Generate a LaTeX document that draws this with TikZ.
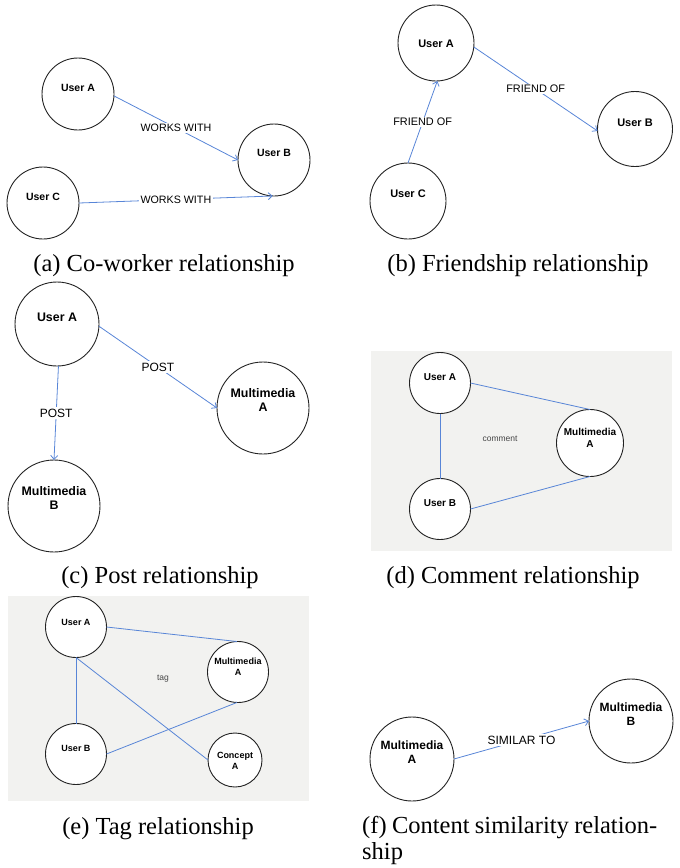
\documentclass[tikz,border=0pt]{standalone}
\usepackage{fontspec}
\setmainfont{Liberation Serif}
\setsansfont{Liberation Sans}
\usetikzlibrary{arrows.meta}
\definecolor{edgeblue}{RGB}{88,133,215}
\definecolor{panelgray}{RGB}{242,242,240}
\definecolor{ringgray}{RGB}{35,35,35}
\definecolor{notegray}{RGB}{70,70,70}
\newcommand\setsz[2]{\fontsize{#1}{#2}\selectfont}
\begin{document}
\begin{tikzpicture}[x=1pt,y=-1pt,
  ring/.style={circle, draw=ringgray, line width=0.9pt, inner sep=0pt, outer sep=0pt, minimum size=#1},
  nodetext/.style={inner sep=0pt, align=center},
  link/.style={draw=edgeblue, line width=0.8pt},
  arrowlink/.style={link, -{Straight Barb[length=4pt,width=7pt]}},
  elab/.style={fill=white, inner sep=1.5pt},
  note/.style={inner sep=0pt, text=notegray, font=\sffamily\setsz{8.5}{10}},
  captext/.style={font=\setsz{24.5}{27}, anchor=base, inner sep=0pt},
]
\useasboundingbox (0,0) rectangle (680,868);

% (a) co-worker relationship
\begin{scope}[nodetext/.append style={font=\sffamily\bfseries\setsz{10.5}{12.5}},
              elab/.append style={font=\sffamily\setsz{10.7}{12.5}}]
  \node[ring=72pt] (a1) at (78,94) {};
  \node[nodetext] (a1t) at (78,88) {User A};
  \node[ring=72pt] (a2) at (274,160) {};
  \node[nodetext] (a2t) at (274,153) {User B};
  \node[ring=72pt] (a3) at (43,203) {};
  \node[nodetext] (a3t) at (43,197) {User C};
  \draw[arrowlink] (a1.-3) -- node[elab] (a12) {WORKS WITH} (a2.180);
  \draw[arrowlink] (a3.0) -- node[elab] (a32) {WORKS WITH} (a2.-92);
\end{scope}
\node[captext] (capa) at (164,271) {(a) Co-worker relationship};

% (b) friendship relationship
\begin{scope}[nodetext/.append style={font=\sffamily\bfseries\setsz{11}{13}},
              elab/.append style={font=\sffamily\setsz{10.9}{13}}]
  \node[ring=76pt] (b1) at (436,43) {};
  \node[nodetext] (b1t) at (436,44) {User A};
  \node[ring=75pt] (b2) at (635,129) {};
  \node[nodetext] (b2t) at (635,123) {User B};
  \node[ring=76pt] (b3) at (408,201) {};
  \node[nodetext] (b3t) at (408,194) {User C};
  \draw[arrowlink] (b1.-6) -- node[elab] (b12) {FRIEND OF} (b2.183);
  \draw[arrowlink] (b3.90) -- node[elab] (b31) {FRIEND OF} (b1.-88);
\end{scope}
\node[captext] (capb) at (518,271) {(b) Friendship relationship};

% (c) post relationship
\begin{scope}[nodetext/.append style={font=\sffamily\bfseries\setsz{12.4}{14.5}},
              elab/.append style={font=\sffamily\setsz{12}{14}}]
  \node[ring=84pt] (c1) at (57,324) {};
  \node[nodetext] (c1t) at (57,317) {User A};
  \node[ring=92pt] (c2) at (263,408) {};
  \node[nodetext] (c2t) at (263,400) {Multimedia\\A};
  \node[ring=92pt] (c3) at (54,506) {};
  \node[nodetext] (c3t) at (54,498) {Multimedia\\B};
  \draw[arrowlink] (c1.-3) -- node[elab] (c12) {POST} (c2.180);
  \draw[arrowlink] (c1.-88) -- node[elab] (c13) {POST} (c3.90);
\end{scope}
\node[captext] (capc) at (160,583) {(c) Post relationship};

% (d) comment relationship
\fill[panelgray] (371,351) rectangle (672,551);
\begin{scope}[nodetext/.append style={font=\sffamily\bfseries\setsz{10}{12}}]
  \node[ring=61pt, fill=white] (d1) at (440,383) {};
  \node[nodetext] (d1t) at (440,377) {User A};
  \node[ring=61pt, fill=white] (d2) at (440,509) {};
  \node[nodetext] (d2t) at (440,503) {User B};
  \node[ring=67pt, fill=white] (d3) at (590,443) {};
  \node[nodetext] (d3t) at (590,438) {Multimedia\\A};
  \draw[link] (d1.-90) -- (d2.90);
  \draw[link] (d1.0) -- (d3.90);
  \draw[link] (d2.0) -- (d3.-90);
  \node[note] (dnote) at (500,439) {comment};
\end{scope}
\node[captext] (capd) at (513,583) {(d) Comment relationship};

% (e) tag relationship
\fill[panelgray] (8,596) rectangle (309,801);
\begin{scope}[nodetext/.append style={font=\sffamily\bfseries\setsz{9}{11}}]
  \node[ring=61pt, fill=white] (e1) at (76,627) {};
  \node[nodetext] (e1t) at (76,622) {User A};
  \node[ring=61pt, fill=white] (e2) at (76,754) {};
  \node[nodetext] (e2t) at (76,748) {User B};
  \node[ring=61pt, fill=white] (e3) at (238,672) {};
  \node[nodetext] (e3t) at (238,667) {Multimedia\\A};
  \node[ring=54pt, fill=white] (e4) at (235,760) {};
  \node[nodetext] (e4t) at (235,761) {Concept\\A};
  \draw[link] (e1.0) -- (e3.92);
  \draw[link] (e1.-90) -- (e2.90);
  \draw[link] (e1.-90) -- (e4.180);
  \draw[link] (e2.0) -- (e3.-92);
  \node[note] (enote) at (163,679) {tag};
\end{scope}
\node[captext] (cape) at (158,834) {(e) Tag relationship};

% (f) content similarity relationship
\begin{scope}[nodetext/.append style={font=\sffamily\bfseries\setsz{12}{14.5}},
              elab/.append style={font=\sffamily\setsz{12}{14}}]
  \node[ring=84pt] (f1) at (412,759) {};
  \node[nodetext] (f1t) at (412,752) {Multimedia\\A};
  \node[ring=84pt] (f2) at (631,721) {};
  \node[nodetext] (f2t) at (631,714) {Multimedia\\B};
  \draw[arrowlink] (f1.0) -- node[elab] (f12) {SIMILAR TO} (f2.180);
\end{scope}
\node[captext, anchor=base west] (capf1) at (362,833) {\makebox[295pt][s]{(f) Content similarity relation-}};
\node[captext, anchor=base west] (capf2) at (362,859) {ship};

\end{tikzpicture}
\end{document}
